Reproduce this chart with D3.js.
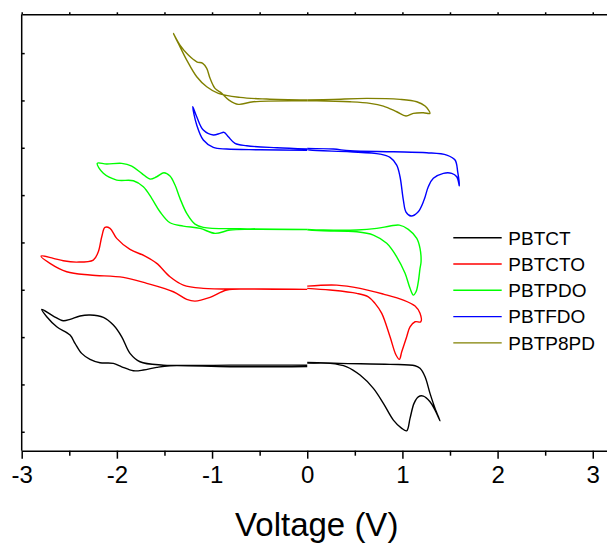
<!DOCTYPE html>
<html>
<head>
<meta charset="utf-8">
<script src="https://cdn.jsdelivr.net/npm/d3@7"></script>
<style>
  body { margin: 0; background: #fff; }
  svg { display: block; font-family: "Liberation Sans", Arial, sans-serif; }
  .axis path, .axis line { stroke: #000; stroke-width: 1.5; }
  .axis text { fill: #000; }
</style>
</head>
<body>
<div id="chart"></div>
<script>
// voltage (V) vs current (a.u., curves stacked); each film has a negative and a positive sweep loop
const PBTCT_NEG = [[0,1.409],[-0.811,1.409],[-1.512,1.409],[-1.757,1.479],[-1.862,1.656],[-1.949,2.007],[-2.037,2.254],[-2.142,2.417],[-2.282,2.466],[-2.387,2.445],[-2.492,2.375],[-2.563,2.345],[-2.668,2.445],[-2.790,2.586],
  [-2.737,2.430],[-2.632,2.218],[-2.492,2.043],[-2.440,1.868],[-2.370,1.656],[-2.282,1.530],[-2.177,1.458],[-2.037,1.445],[-1.949,1.373],[-1.827,1.289],[-1.722,1.304],[-1.581,1.361],[-1.442,1.394],[-0.811,1.373],[0,1.38]];
const PBTCT_POS = [[0,1.466],[0.345,1.445],[0.870,1.424],[1.133,1.394],[1.185,1.340],[1.238,1.162],[1.290,0.811],[1.343,0.494],[1.395,0.232],
  [1.343,0.458],[1.290,0.634],[1.220,0.754],[1.167,0.739],[1.122,0.600],[1.080,0.283],[1.045,0.021],[0.993,0.072],[0.905,0.247],[0.800,0.600],[0.695,0.917],[0.555,1.198],[0.415,1.373],[0.240,1.445],[0,1.445]];

const PBTCTO_NEG = [[0,3.009],[-0.601,3.015],[-1.092,3.030],[-1.302,3.099],[-1.442,3.275],[-1.581,3.558],[-1.704,3.712],[-1.862,3.854],[-2.002,4.086],[-2.072,4.297],[-2.125,4.318],[-2.159,4.120],[-2.195,3.803],[-2.248,3.628],[-2.422,3.585],[-2.563,3.613],[-2.668,3.664],[-2.797,3.712],
  [-2.703,3.558],[-2.527,3.381],[-2.282,3.311],[-1.932,3.262],[-1.686,3.135],[-1.407,2.958],[-1.266,2.797],[-1.179,2.761],[-1.021,2.840],[-0.846,2.994],[-0.601,3.015],[0,3.009]];
const PBTCTO_POS = [[0,3.078],[0.310,3.099],[0.555,3.030],[0.800,2.909],[1.010,2.783],[1.133,2.656],[1.185,2.502],[1.193,2.324],
  [1.133,2.324],[1.080,2.218],[1.045,2.007],[0.993,1.690],[0.968,1.530],[0.933,1.621],[0.870,2.007],[0.783,2.502],[0.712,2.713],[0.642,2.852],[0.520,2.924],[0.240,2.994],[0,3.030]];

const PBTPDO_NEG = [[0,4.276],[-0.706,4.289],[-1.092,4.318],[-1.179,4.388],[-1.266,4.614],[-1.337,4.931],[-1.389,5.212],[-1.442,5.402],[-1.505,5.472],[-1.581,5.388],[-1.652,5.339],[-1.739,5.460],[-1.844,5.614],[-1.949,5.671],[-2.107,5.656],[-2.206,5.671],
  [-2.142,5.460],[-2.002,5.318],[-1.827,5.303],[-1.722,5.176],[-1.634,4.931],[-1.547,4.648],[-1.442,4.416],[-1.302,4.346],[-1.126,4.297],[-0.969,4.192],[-0.811,4.262],[-0.601,4.277],[0,4.27]];
const PBTPDO_POS = [[0,4.277],[0.169,4.262],[0.520,4.262],[0.730,4.297],[0.870,4.346],[0.968,4.367],[1.062,4.277],[1.151,4.086],[1.185,3.875],[1.196,3.592],
  [1.185,3.452],[1.167,3.169],[1.143,2.958],[1.115,2.888],[1.080,3.030],[1.028,3.347],[0.940,3.697],[0.835,3.981],[0.695,4.156],[0.520,4.226],[0.169,4.247],[0,4.262]];

const PBTFDO_NEG = [[0,5.973],[-0.320,6.001],[-0.636,6.043],[-0.759,6.093],[-0.829,6.233],[-0.874,6.326],[-0.916,6.305],[-0.987,6.269],[-1.092,6.374],[-1.161,6.655],[-1.203,6.867],
  [-1.161,6.480],[-1.092,6.163],[-0.987,6.009],[-0.846,5.973],[-0.496,5.958],[0,5.945]];
const PBTFDO_POS = [[0,5.988],[0.274,5.973],[0.450,5.937],[0.905,5.916],[1.256,5.895],[1.466,5.846],[1.553,5.741],[1.581,5.493],[1.598,5.198],
  [1.571,5.388],[1.518,5.460],[1.430,5.460],[1.325,5.354],[1.272,5.176],[1.227,4.895],[1.164,4.642],[1.091,4.558],[1.038,4.642],[1.010,4.895],[0.975,5.388],[0.940,5.635],[0.870,5.798],[0.765,5.867],[0.450,5.916],[0.029,5.952],[0,5.973]];

const PBTP8PD_NEG = [[0,7.008],[-0.426,7.029],[-0.706,7.065],[-0.934,7.150],[-1.056,7.289],[-1.161,7.501],[-1.266,7.853],[-1.354,8.206],[-1.407,8.417],
  [-1.337,8.170],[-1.249,7.959],[-1.161,7.817],[-1.098,7.784],[-1.056,7.678],[-1.021,7.467],[-0.969,7.255],[-0.898,7.150],[-0.822,7.008],[-0.724,6.918],[-0.566,6.972],[0,6.99]];
const PBTP8PD_POS = [[0,7.008],[0.274,7.023],[0.625,7.044],[0.975,7.023],[1.151,6.972],[1.238,6.881],[1.290,6.727],
  [1.220,6.740],[1.115,6.727],[1.038,6.670],[0.940,6.761],[0.800,6.881],[0.660,6.939],[0.450,6.972],[0.100,6.993],[0,6.993]];

const NAMES = ['PBTCT', 'PBTCTO', 'PBTPDO', 'PBTFDO', 'PBTP8PD'];
const COLORS = ['#000000', '#ff0000', '#00ff00', '#0000ff', '#808000'];
const SWEEPS = [
  [PBTCT_NEG, PBTCT_POS],
  [PBTCTO_NEG, PBTCTO_POS],
  [PBTPDO_NEG, PBTPDO_POS],
  [PBTFDO_NEG, PBTFDO_POS],
  [PBTP8PD_NEG, PBTP8PD_POS],
];
const X_TICKS = [-3, -2, -1, 0, 1, 2, 3];
const X_MINOR = [-2.5, -1.5, -0.5, 0.5, 1.5, 2.5];
const Y_TICKS = [0, 1, 2, 3, 4, 5, 6, 7, 8];

// dimensions
const WIDTH = 607;
const HEIGHT = 543;
const PLOT_LEFT = 21.7;
const PLOT_RIGHT = 611.8;
const PLOT_TOP = 14.3;
const PLOT_BOTTOM = 450.7;

const scaleX = d3.scaleLinear().domain([-3, 3.2]).range([PLOT_LEFT, PLOT_RIGHT]);
const scaleY = d3.scaleLinear().domain([-0.4, 8.82]).range([PLOT_BOTTOM, PLOT_TOP]);

const $svg = d3.select('#chart').append('svg')
  .attr('width', WIDTH)
  .attr('height', HEIGHT);

// curves
const line = d3.line()
  .x(d => scaleX(d[0]))
  .y(d => scaleY(d[1]))
  .curve(d3.curveCatmullRom.alpha(0.5));

const $curves = $svg.append('g').attr('class', 'g-curves');
SWEEPS.forEach((pair, i) => {
  $curves.selectAll(`.sweep-${i}`)
    .data(pair)
    .join('path')
    .attr('class', `sweep-${i}`)
    .attr('d', line)
    .attr('fill', 'none')
    .attr('stroke', COLORS[i])
    .attr('stroke-width', 1.4);
});

// axes
const $axes = $svg.append('g').attr('class', 'g-axes');

$axes.append('g').attr('class', 'axis')
  .attr('transform', `translate(0, ${PLOT_BOTTOM})`)
  .call(d3.axisBottom(scaleX).tickValues(X_MINOR).tickSize(5).tickFormat(''))
  .call(g => g.select('.domain').remove());

$axes.append('g').attr('class', 'axis')
  .attr('transform', `translate(0, ${PLOT_BOTTOM})`)
  .call(d3.axisBottom(scaleX).tickValues(X_TICKS).tickSize(8).tickSizeOuter(0).tickPadding(7).tickFormat(d => String(d)))
  .call(g => g.selectAll('text').attr('font-size', 24).attr('font-family', '"Liberation Sans", Arial, sans-serif'));

$axes.append('g').attr('class', 'axis')
  .attr('transform', `translate(0, ${PLOT_TOP})`)
  .call(d3.axisTop(scaleX).tickValues(X_TICKS.concat(X_MINOR)).tickSize(2).tickSizeOuter(0).tickFormat(''));

$axes.append('g').attr('class', 'axis')
  .attr('transform', `translate(${PLOT_LEFT}, 0)`)
  .call(d3.axisRight(scaleY).tickValues(Y_TICKS).tickSize(3).tickSizeOuter(0).tickFormat(''))
  .call(g => g.select('.domain').attr('d', `M0,${PLOT_TOP}V${PLOT_BOTTOM}`));

// axis title
$svg.append('text')
  .attr('x', (PLOT_LEFT + PLOT_RIGHT) / 2)
  .attr('y', 536)
  .attr('text-anchor', 'middle')
  .attr('font-size', 33)
  .text('Voltage (V)');

// legend
const $legend = $svg.append('g').attr('class', 'g-legend')
  .attr('transform', 'translate(453.3, 237.7)');

const $items = $legend.selectAll('.legend-item')
  .data(NAMES)
  .join('g')
  .attr('class', 'legend-item')
  .attr('transform', (d, i) => `translate(0, ${i * 26.3})`);

$items.append('line')
  .attr('x1', 0).attr('x2', 48.4)
  .attr('stroke', (d, i) => COLORS[i])
  .attr('stroke-width', 1.4);

$items.append('text')
  .attr('x', 55)
  .attr('dy', '0.36em')
  .attr('font-size', 19)
  .text(d => d);
</script>
</body>
</html>
